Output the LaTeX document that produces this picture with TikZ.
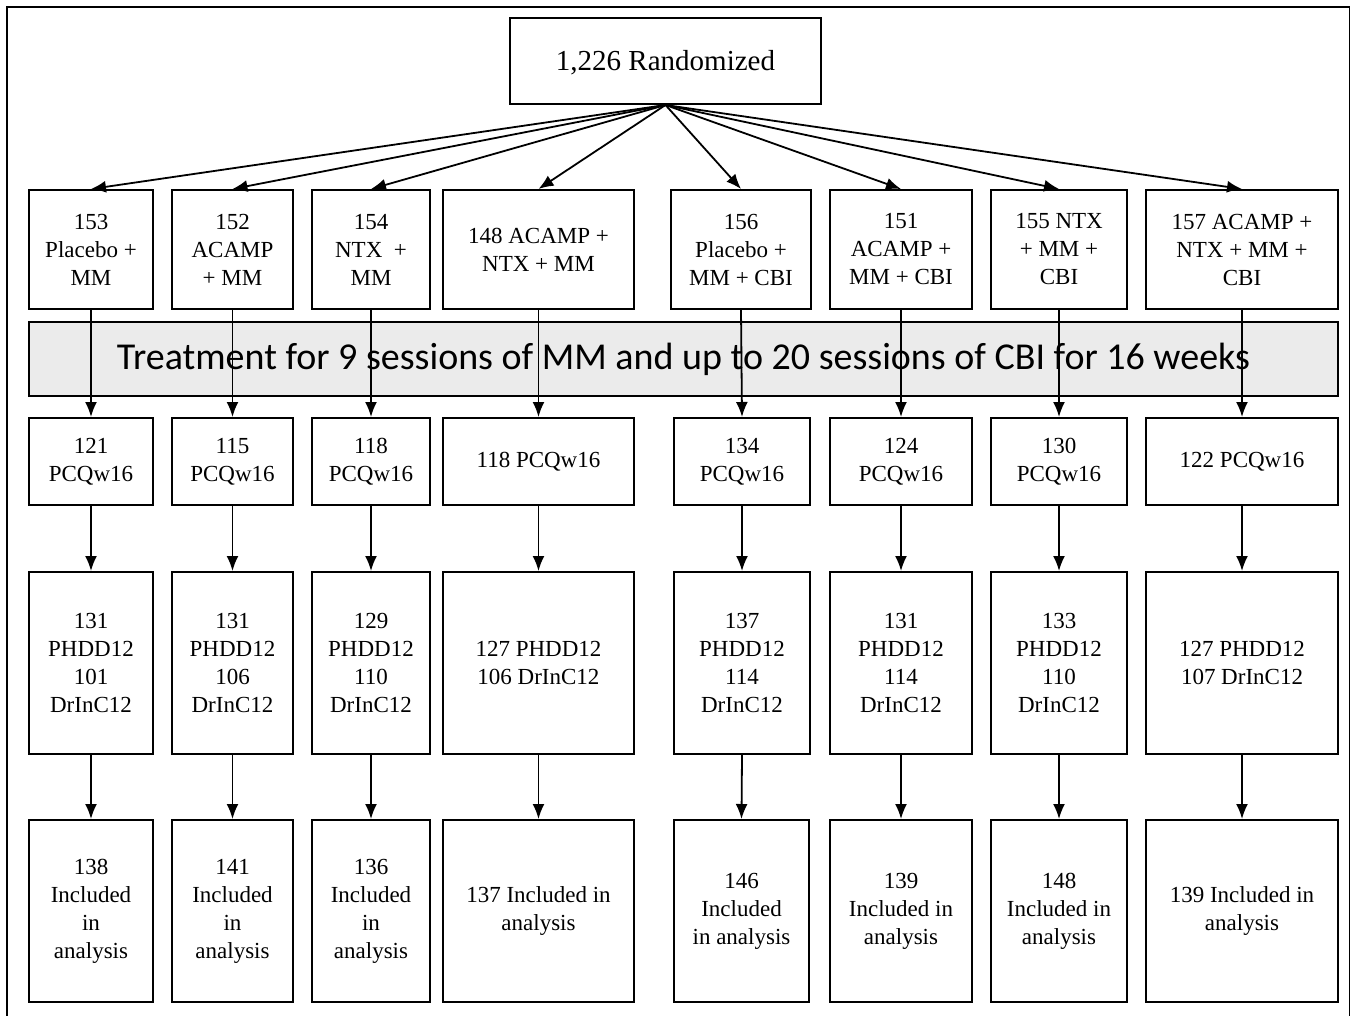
\documentclass[tikz,border=0pt]{standalone}
\usepackage{fontspec}
\setmainfont{Liberation Serif}
\newfontfamily\bandfont{Carlito}
\usetikzlibrary{arrows.meta}
\definecolor{bandgray}{HTML}{EBEBEB}

\begin{document}
\begin{tikzpicture}[x=1pt,y=-1pt,>={Latex[length=15pt,width=12pt]},
                    cell/.style={draw, line width=2pt, inner sep=0pt, align=center,
                                 font=\fontsize{23}{28}\selectfont},
                    link/.style={->, line width=1.8pt}]

  \useasboundingbox (0,0) rectangle (1351,1015);
  \clip (0,0) rectangle (1351,1015);
  \draw[line width=1.8pt] (7,1030) -- (7,7) -- (1349.5,7) -- (1349.5,1030);

  \node[cell, minimum width=311, minimum height=86, text depth=2pt,
        font=\fontsize{29}{34}\selectfont] (top) at (665.5,61) {1,226 Randomized};

  % arms
  \node[cell, minimum width=124, minimum height=119] (a1) at (91,249.5)   {153\\Placebo +\\MM};
  \node[cell, minimum width=121, minimum height=119] (a2) at (232.5,249.5) {152\\ACAMP\\+ MM};
  \node[cell, minimum width=118, minimum height=119] (a3) at (371,249.5)  {154\\NTX~~+\\MM};
  \node[cell, minimum width=191, minimum height=119] (a4) at (538.5,249.5) {148 ACAMP +\\NTX + MM};
  \node[cell, minimum width=140, minimum height=119] (a5) at (741,249.5)  {156\\Placebo +\\MM + CBI};
  \node[cell, minimum width=142, minimum height=119] (a6) at (901,249.5)  {151\\ACAMP +\\MM + CBI};
  \node[cell, minimum width=136, minimum height=119] (a7) at (1059,249.5) {155 NTX\\+ MM +\\CBI};
  \node[cell, minimum width=192, minimum height=119] (a8) at (1242,249.5) {157 ACAMP +\\NTX + MM +\\CBI};

  \node[draw, line width=2pt, fill=bandgray, inner sep=0pt,
        minimum width=1309, minimum height=74] (band) at (683.5,359)
        {\bandfont\fontsize{38}{44}\selectfont
         Treatment for 9 sessions of MM and up to 20 sessions of CBI for 16 weeks};

  % week 16
  \node[cell, minimum width=124, minimum height=87] (b1) at (91,461.5)   {121\\PCQw16};
  \node[cell, minimum width=121, minimum height=87] (b2) at (232.5,461.5) {115\\PCQw16};
  \node[cell, minimum width=118, minimum height=87] (b3) at (371,461.5)  {118\\PCQw16};
  \node[cell, minimum width=191, minimum height=87] (b4) at (538.5,461.5) {118 PCQw16};
  \node[cell, minimum width=136, minimum height=87] (b5) at (742,461.5)  {134\\PCQw16};
  \node[cell, minimum width=142, minimum height=87] (b6) at (901,461.5)  {124\\PCQw16};
  \node[cell, minimum width=136, minimum height=87] (b7) at (1059,461.5) {130\\PCQw16};
  \node[cell, minimum width=192, minimum height=87] (b8) at (1242,461.5) {122 PCQw16};

  % month 12
  \node[cell, minimum width=124, minimum height=182] (c1) at (91,663)   {131\\PHDD12\\101\\DrInC12};
  \node[cell, minimum width=121, minimum height=182] (c2) at (232.5,663) {131\\PHDD12\\106\\DrInC12};
  \node[cell, minimum width=118, minimum height=182] (c3) at (371,663)  {129\\PHDD12\\110\\DrInC12};
  \node[cell, minimum width=191, minimum height=182] (c4) at (538.5,663) {127 PHDD12\\106 DrInC12};
  \node[cell, minimum width=136, minimum height=182] (c5) at (742,663)  {137\\PHDD12\\114\\DrInC12};
  \node[cell, minimum width=142, minimum height=182] (c6) at (901,663)  {131\\PHDD12\\114\\DrInC12};
  \node[cell, minimum width=136, minimum height=182] (c7) at (1059,663) {133\\PHDD12\\110\\DrInC12};
  \node[cell, minimum width=192, minimum height=182] (c8) at (1242,663) {127 PHDD12\\107 DrInC12};

  % analysis
  \node[cell, minimum width=124, minimum height=182] (d1) at (91,911)   {138\\Included\\in\\analysis};
  \node[cell, minimum width=121, minimum height=182] (d2) at (232.5,911) {141\\Included\\in\\analysis};
  \node[cell, minimum width=118, minimum height=182] (d3) at (371,911)  {136\\Included\\in\\analysis};
  \node[cell, minimum width=191, minimum height=182] (d4) at (538.5,911) {137 Included in\\analysis};
  \node[cell, minimum width=135, minimum height=182] (d5) at (741.5,911) {146\\Included\\in analysis};
  \node[cell, minimum width=142, minimum height=182] (d6) at (901,911)  {139\\Included in\\analysis};
  \node[cell, minimum width=136, minimum height=182] (d7) at (1059,911) {148\\Included in\\analysis};
  \node[cell, minimum width=192, minimum height=182] (d8) at (1242,911) {139 Included in\\analysis};

  \foreach \i in {1,...,8}{
    \draw[link] (top.south) -- (a\i.north);
    \draw[link] (a\i.south) -- (b\i.north);
    \draw[link] (b\i.south) -- (c\i.north);
    \draw[link] (c\i.south) -- (d\i.north);
  }
\end{tikzpicture}
\end{document}
